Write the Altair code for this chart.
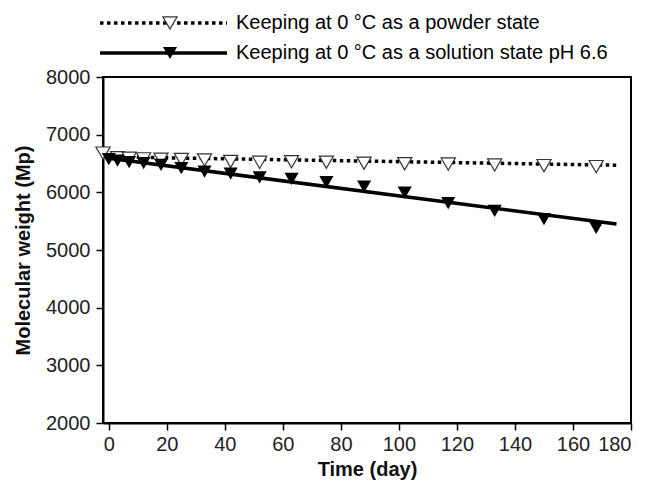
import altair as alt
import pandas as pd

# ---- data ----
days = [0, 3, 7, 12, 18, 25, 33, 42, 52, 63, 75, 88, 102, 117, 133, 150, 168]
powder_days = [-2, 3, 7, 12, 18, 25, 33, 42, 52, 63, 75, 88, 102, 117, 133, 150, 168]
powder_mw = [6680, 6600, 6590, 6580, 6575, 6570, 6562, 6535, 6520, 6530, 6522,
             6505, 6495, 6490, 6475, 6463, 6446]
solution_mw = [6575, 6550, 6525, 6505, 6475, 6420, 6360, 6325, 6260, 6232, 6175,
               6100, 5995, 5811, 5678, 5534, 5385]
fit_days = [0, 175]
powder_fit = [6615, 6470]
solution_fit = [6590, 5450]
legend_labels = ["Keeping at 0 \u00b0C as a powder state",
                 "Keeping at 0 \u00b0C as a solution state pH 6.6"]
x_ticks = list(range(0, 181, 20))
y_ticks = list(range(2000, 8001, 1000))

FONT = "Liberation Sans"
W, H = 528, 346
MSIZE = 200

powder_pts = pd.DataFrame({"day": powder_days, "mw": powder_mw})
solution_pts = pd.DataFrame({"day": days, "mw": solution_mw})
powder_line = pd.DataFrame({"day": fit_days, "mw": powder_fit})
solution_line = pd.DataFrame({"day": fit_days, "mw": solution_fit})

xs = alt.Scale(domain=[-2, 180], nice=False, zero=False)
ys = alt.Scale(domain=[2000, 8000], nice=False, zero=False)

x_enc = alt.X("day:Q", scale=xs, title="Time (day)",
              axis=alt.Axis(values=x_ticks, format="d", titlePadding=5,
                            labelPadding=4))
y_enc = alt.Y("mw:Q", scale=ys, title="Molecular weight (Mp)",
              axis=alt.Axis(values=y_ticks, format="d", titlePadding=12,
                            labelPadding=6))

l_powder = alt.Chart(powder_line).mark_line(
    color="black", strokeWidth=3.5, strokeDash=[3.5, 3.5]).encode(x=x_enc, y=y_enc)
l_solution = alt.Chart(solution_line).mark_line(
    color="black", strokeWidth=3.5).encode(x=x_enc, y=y_enc)
p_powder = alt.Chart(powder_pts).mark_point(
    shape="triangle-down", filled=True, fill="white", stroke="#333",
    strokeWidth=1.2, size=MSIZE, opacity=1).encode(x=x_enc, y=y_enc)
p_solution = alt.Chart(solution_pts).mark_point(
    shape="triangle-down", filled=True, fill="black", size=MSIZE,
    opacity=1).encode(x=x_enc, y=y_enc)

# ---- legend (drawn above the plot area) ----
leg_y = [-54, -24]
leg_x0, leg_x1, leg_mx, leg_tx = -3, 124, 67, 133

def legend_item(i, dash, open_marker):
    d = pd.DataFrame({"label": [legend_labels[i]]})
    base = alt.Chart(d)
    rule_kw = dict(color="black", strokeWidth=3.5)
    if dash:
        rule_kw["strokeDash"] = [3.5, 3.5]
    rule = base.mark_rule(**rule_kw).encode(
        x=alt.value(leg_x0), x2=alt.value(leg_x1), y=alt.value(leg_y[i]))
    if open_marker:
        pt = base.mark_point(shape="triangle-down", filled=True, fill="white",
                             stroke="#333", strokeWidth=1.2, size=MSIZE, opacity=1)
    else:
        pt = base.mark_point(shape="triangle-down", filled=True, fill="black",
                             size=MSIZE, opacity=1)
    pt = pt.encode(x=alt.value(leg_mx), y=alt.value(leg_y[i]))
    txt = base.mark_text(align="left", baseline="middle", font=FONT,
                         fontSize=20, color="#000").encode(
        x=alt.value(leg_tx), y=alt.value(leg_y[i]), text="label:N")
    return [rule, pt, txt]

layers = [l_powder, l_solution, p_powder, p_solution]
layers += legend_item(0, True, True)
layers += legend_item(1, False, False)

chart = alt.layer(*layers).properties(
    width=W, height=H,
    autosize=alt.AutoSizeParams(type="none"),
    padding={"left": 95, "top": 69, "right": 12, "bottom": 60},
).configure_view(
    stroke="black", strokeWidth=2
).configure_axis(
    grid=False, domainColor="black", domainWidth=2, tickColor="black",
    tickWidth=1.5, tickSize=7, labelFont=FONT, labelFontSize=20,
    labelColor="#222", titleFont=FONT, titleFontSize=20,
    titleFontWeight="bold", titleColor="#111"
)

chart.save("out.html", embed_options={"renderer": "svg", "actions": False})
